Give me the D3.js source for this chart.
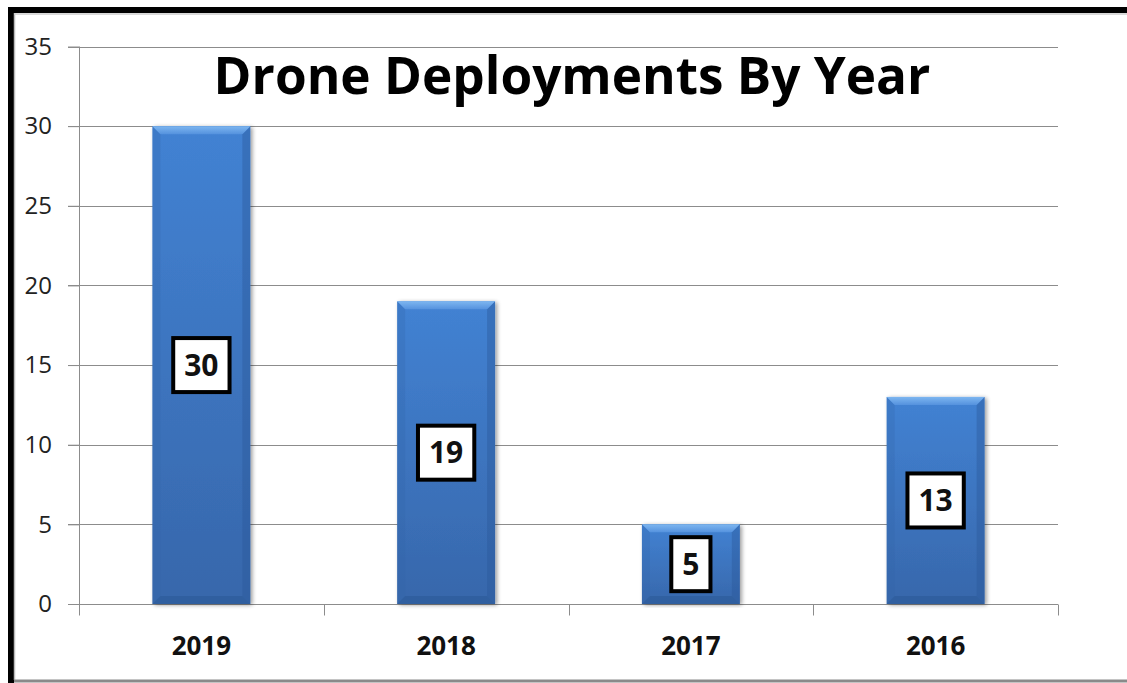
<!DOCTYPE html>
<html><head><meta charset="utf-8">
<script src="https://cdn.jsdelivr.net/npm/d3@7"></script>
<style>
html,body{margin:0;padding:0;background:#fff;}
svg{display:block;}
text{font-family:"Open Sans","Liberation Sans",sans-serif;}
</style></head>
<body>
<script>
const categories = ["2019", "2018", "2017", "2016"];
const values = [30, 19, 5, 13];
const yTicks = [0, 5, 10, 15, 20, 25, 30, 35];
const title = "Drone Deployments By Year";

const W = 1127, H = 683;
const svg = d3.select("body").append("svg").attr("width", W).attr("height", H);

const defs = svg.append("defs");
const g1 = defs.append("linearGradient").attr("id","barGrad").attr("x1",0).attr("y1",0).attr("x2",0).attr("y2",1);
g1.append("stop").attr("offset","0%").attr("stop-color","#4282d3");
g1.append("stop").attr("offset","100%").attr("stop-color","#3767ab");
const g2 = defs.append("linearGradient").attr("id","topGrad").attr("x1",0).attr("y1",0).attr("x2",0).attr("y2",1);
g2.append("stop").attr("offset","0%").attr("stop-color","#7db6f0");
g2.append("stop").attr("offset","100%").attr("stop-color","#5592de");
const sh = defs.append("filter").attr("id","shadow").attr("x","-20%").attr("y","-5%").attr("width","140%").attr("height","110%");
sh.append("feGaussianBlur").attr("in","SourceAlpha").attr("stdDeviation",2);
sh.append("feOffset").attr("dx",2).attr("dy",1).attr("result","b");
sh.append("feComponentTransfer").append("feFuncA").attr("type","linear").attr("slope",0.4);
const fm = sh.append("feMerge"); fm.append("feMergeNode"); fm.append("feMergeNode").attr("in","SourceGraphic");

// frame
svg.append("rect").attr("x",0).attr("y",0).attr("width",W).attr("height",H).attr("fill","#fff");
svg.append("line").attr("x1",11).attr("x2",11).attr("y1",7).attr("y2",683).attr("stroke","#000").attr("stroke-width",6);
svg.append("line").attr("x1",14.5).attr("x2",14.5).attr("y1",13).attr("y2",680).attr("stroke","#bbb").attr("stroke-width",1.5);
svg.append("line").attr("x1",8).attr("x2",W).attr("y1",10).attr("y2",10).attr("stroke","#000").attr("stroke-width",6);
svg.append("line").attr("x1",14).attr("x2",W).attr("y1",14).attr("y2",14).attr("stroke","#ccc").attr("stroke-width",1.5);
svg.append("line").attr("x1",14).attr("x2",W).attr("y1",681).attr("y2",681).attr("stroke","#8a8a8a").attr("stroke-width",3);

const x0 = 79, x1 = 1058;
const y = d3.scaleLinear().domain([0,35]).range([604, 46.5]);
const x = d3.scaleBand().domain(categories).range([x0, x1]).paddingInner(0.6).paddingOuter(0.3);

// gridlines
svg.append("g").selectAll("line").data(yTicks.filter(d=>d>0)).join("line")
  .attr("x1",68).attr("x2",x1).attr("y1",d=>Math.round(y(d))+0.5).attr("y2",d=>Math.round(y(d))+0.5)
  .attr("stroke","#8c8c8c").attr("stroke-width",1);

// y axis
const yAxis = svg.append("g").attr("transform",`translate(${x0},0)`)
  .call(d3.axisLeft(y).tickValues(yTicks).tickSize(11).tickPadding(16).tickFormat(d3.format("d")));
yAxis.select(".domain").attr("stroke","#8c8c8c").attr("d",`M0.5,${y(35)}V${y(0)}`);
yAxis.selectAll(".tick line").attr("stroke","#8c8c8c");
yAxis.selectAll(".tick text").attr("font-size",24).attr("fill","#222").attr("font-family","Open Sans, sans-serif");

// x axis
const xAxis = svg.append("g").attr("transform",`translate(0,${Math.round(y(0))+0.5})`);
xAxis.append("line").attr("x1",68).attr("x2",x1).attr("stroke","#8c8c8c");
const bounds = d3.range(categories.length+1).map(i => x0 + i*(x1-x0)/categories.length);
xAxis.selectAll(".bt").data(bounds).join("line").attr("class","bt")
  .attr("x1",d=>Math.round(d)+0.5).attr("x2",d=>Math.round(d)+0.5).attr("y1",0).attr("y2",11).attr("stroke","#8c8c8c");
xAxis.selectAll(".cl").data(categories).join("text").attr("class","cl")
  .attr("x",d=>x(d)+x.bandwidth()/2).attr("y",50).attr("text-anchor","middle")
  .attr("font-size",26).attr("font-weight","bold").attr("fill","#111").text(d=>d);

// bars
const b = 8;
const bars = svg.append("g").selectAll("g").data(categories.map((c,i)=>({c,v:values[i]}))).join("g");
bars.each(function(d){
  const gx = d3.select(this);
  const L = x(d.c), R = L + x.bandwidth(), T = y(d.v), B = y(0);
  gx.append("rect").attr("x",L).attr("y",T).attr("width",R-L).attr("height",B-T).attr("fill","url(#barGrad)").attr("filter","url(#shadow)");
  gx.append("path").attr("d",`M${L},${T}L${L+b},${T+b}L${L+b},${B-b}L${L},${B}Z`).attr("fill","#2f62a8").attr("opacity",0.25);
  gx.append("path").attr("d",`M${R},${T}L${R-b},${T+b}L${R-b},${B-b}L${R},${B}Z`).attr("fill","#2a5898").attr("opacity",0.4);
  gx.append("path").attr("d",`M${L},${B}L${L+b},${B-b}L${R-b},${B-b}L${R},${B}Z`).attr("fill","#2c5a98").attr("opacity",0.6);
  gx.append("path").attr("d",`M${L},${T}L${R},${T}L${R-b},${T+b}L${L+b},${T+b}Z`).attr("fill","url(#topGrad)");
});

// data labels
bars.each(function(d){
  const gx = d3.select(this);
  const cx = x(d.c) + x.bandwidth()/2, cy = y(d.v/2);
  const t = gx.append("text").attr("x",cx).attr("y",cy).attr("dy","0.36em").attr("text-anchor","middle")
    .attr("font-size",30).attr("font-weight","bold").attr("fill","#111").text(d.v);
  const w = t.node().getComputedTextLength() + 22, h = 54;
  gx.insert("rect","text").attr("x",cx-w/2).attr("y",cy-h/2).attr("width",w).attr("height",h)
    .attr("fill","#fff").attr("stroke","#000").attr("stroke-width",4);
});

// title
const tt = svg.append("text").attr("x",572).attr("y",94).attr("text-anchor","middle")
  .attr("font-size",48).attr("font-weight","bold").attr("fill","#000").text(title);
const tl = tt.node().getComputedTextLength();
tt.attr("font-size", 48*717/tl);
</script>
</body></html>
